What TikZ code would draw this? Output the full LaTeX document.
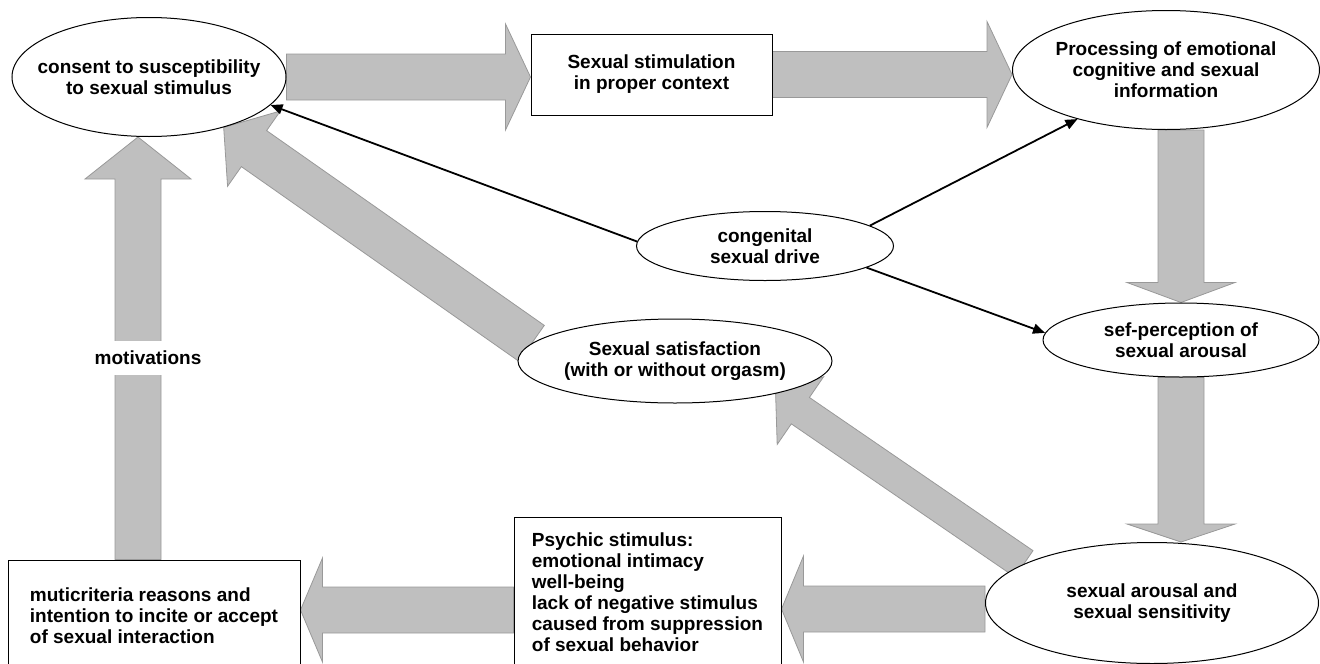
\documentclass[tikz,border=0pt]{standalone}
\usepackage{fontspec}
\setmainfont{Liberation Sans}
\usepackage{tikz}
\usetikzlibrary{shapes,arrows.meta,calc,backgrounds}

\newcommand{\fatarrow}[5]{%
  \coordinate (fa-a) at (#4);
  \coordinate (fa-b) at (#5);
  \coordinate (fa-c) at ($(fa-b)!#3!(fa-a)$);
  \filldraw[fat] ($(fa-a)!#1!90:(fa-b)$) -- ($(fa-c)!#1!-90:(fa-a)$)
    -- ($(fa-c)!#2!-90:(fa-a)$) -- (fa-b) -- ($(fa-c)!#2!90:(fa-a)$)
    -- ($(fa-c)!#1!90:(fa-a)$) -- ($(fa-a)!#1!-90:(fa-b)$) -- cycle;}

\begin{document}
\begin{tikzpicture}[x=1pt,y=-1pt,semithick,
  >={Triangle[length=12pt,width=10pt]},
  every node/.style={font=\fontsize{19pt}{21pt}\selectfont\bfseries},
  bubble/.style 2 args={ellipse,draw,fill=white,line width=1pt,align=center,
    inner xsep=-100pt,inner ysep=-40pt,minimum width=#1,minimum height=#2},
  box/.style={rectangle,draw,fill=white,line width=1pt,align=center,inner sep=0pt},
  fat/.style={fill=black!25,draw=black!40,line width=0.8pt},
  link/.style={line width=1.8pt}]
	\useasboundingbox (0,0) rectangle (1320,664);

	\node[bubble={274pt}{119pt}] (consent) at (149,77) {consent to susceptibility\\to sexual stimulus};
	\node[box,minimum width=241pt,minimum height=81pt] (stim) at (651.5,74.5) {Sexual stimulation\\in proper context};
	\node[bubble={307pt}{119pt}] (proc) at (1166,70) {Processing of emotional\\cognitive and sexual\\information};
	\node[bubble={257pt}{69pt}] (drive) at (765,246) {congenital\\sexual drive};
	\node[bubble={276pt}{74pt}] (sefperc) at (1181,340) {sef-perception of\\sexual arousal};
	\node[bubble={314pt}{84pt}] (satis) at (675,361) {Sexual satisfaction\\(with or without orgasm)};
	\node[bubble={333pt}{121pt}] (arousal) at (1152,603) {sexual arousal and\\sexual sensitivity};
	\node[box,align=left,minimum width=267pt,minimum height=150pt] (psychic) at (647.5,592)
		{Psychic stimulus:\\emotional intimacy\\well-being\\lack of negative stimulus\\caused from suppression\\of sexual behavior};
	\node[box,align=left,minimum width=292pt,minimum height=112pt] (reasons) at (154,616)
		{muticriteria reasons and\\intention to incite or accept\\of sexual interaction};
	\node[fill=white,inner xsep=2pt,minimum height=34pt] (motiv) at (148,358) {motivations};

	\path[->,link] (drive.178) edge (consent.-13)
		(drive.11) edge (proc.-151)
		(drive.-12) edge (sefperc.177);

	\begin{scope}[on background layer]
		\fatarrow{23pt}{53pt}{25pt}{consent.east}{stim.west |- fa-a}
		\fatarrow{23pt}{53pt}{25pt}{stim.east}{proc.west |- fa-a}
		\fatarrow{23pt}{54pt}{20pt}{sefperc.north |- proc.south}{sefperc.north}
		\fatarrow{23pt}{54pt}{18pt}{sefperc.south}{fa-a |- arousal.north}
		\fatarrow{23pt}{53pt}{22pt}{[yshift=-6pt]arousal.west}{psychic.east |- fa-a}
		\fatarrow{23pt}{52pt}{22pt}{[yshift=-18pt]psychic.west}{reasons.east |- fa-a}
		\fatarrow{23pt}{53pt}{42pt}{[xshift=-16pt]reasons.north}{fa-a |- consent.south}
		\fatarrow{22pt}{46pt}{37pt}{satis.173}{consent.-34}
		\fatarrow{16pt}{41pt}{30pt}{arousal.163}{satis.-18}
	\end{scope}
\end{tikzpicture}
\end{document}
